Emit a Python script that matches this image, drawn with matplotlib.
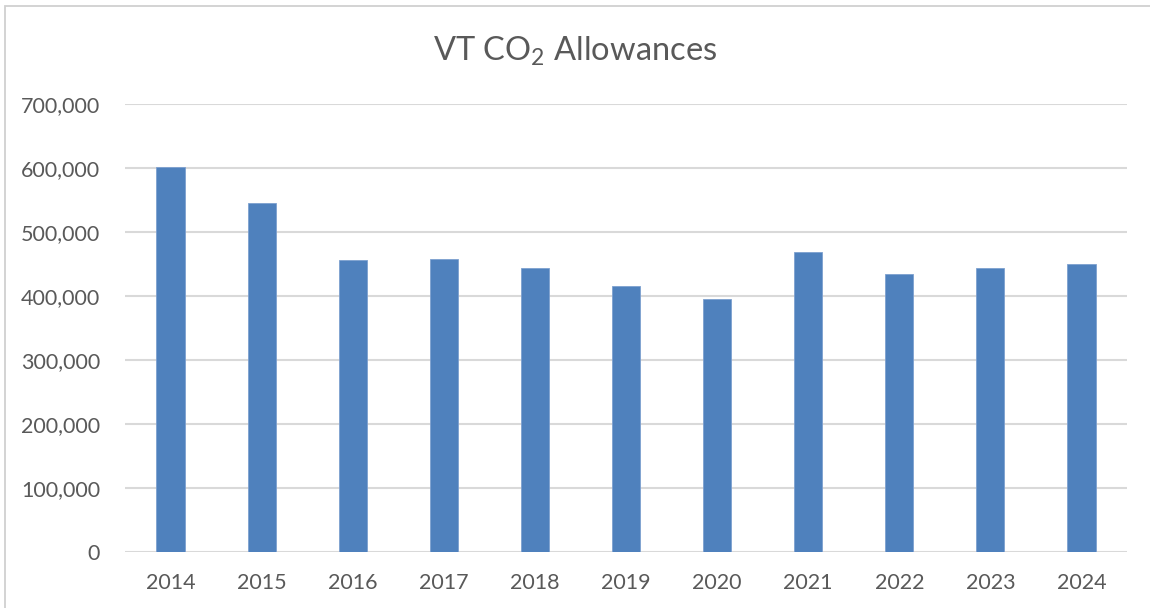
import matplotlib
matplotlib.use("Agg")
import matplotlib.pyplot as plt
from matplotlib.ticker import FuncFormatter
from matplotlib.patches import Rectangle

years = ["2014", "2015", "2016", "2017", "2018", "2019", "2020", "2021", "2022", "2023", "2024"]
allowances = [602000, 545000, 456000, 458000, 443000, 415000, 396000, 468000, 434000, 443000, 450000]
yticks = [0, 100000, 200000, 300000, 400000, 500000, 600000, 700000]

plt.rcParams['font.family'] = ['Lato', 'DejaVu Sans']
plt.rcParams['mathtext.fontset'] = 'custom'
plt.rcParams['mathtext.rm'] = 'Lato'

text_color = "#595959"
grid_color = "#d9d9d9"
bar_color = "#4f81bd"

fig = plt.figure(figsize=(11.5, 6.08), dpi=100)
fig.patch.set_facecolor("white")

# chart border
fig.patches.append(Rectangle((5/1150, -0.01), 1.02, 1 - 6/608 + 0.01, transform=fig.transFigure,
                             fill=False, edgecolor="#d0d0d0", linewidth=1.3))

ax = fig.add_axes([125/1150, 1 - 552/608, (1127 - 125)/1150, (552 - 104)/608])
x = list(range(len(years)))
ax.bar(x, allowances, width=0.31, color=bar_color, edgecolor="#7da0cf", linewidth=0.6, zorder=3)

ax.set_xlim(-0.5, len(years) - 0.5)
ax.set_ylim(0, 700000)
ax.set_yticks(yticks)
ax.yaxis.set_major_formatter(FuncFormatter(lambda v, p: f"{int(v):,}"))
ax.set_xticks(x)
ax.set_xticklabels(years)
ax.grid(axis="y", color=grid_color, linewidth=1.5, zorder=0)
for s in ax.spines.values():
    s.set_visible(False)
ax.tick_params(axis="both", length=0, colors=text_color, labelsize=15.5)
ax.tick_params(axis="y", pad=18)
ax.tick_params(axis="x", pad=15)

fig.text(0.5, 1 - 51/608, r"VT CO$_{\mathrm{2}}$ Allowances", ha="center", va="center",
         fontsize=23.5, color=text_color)

fig.savefig("out.png", dpi=100, facecolor="white")
